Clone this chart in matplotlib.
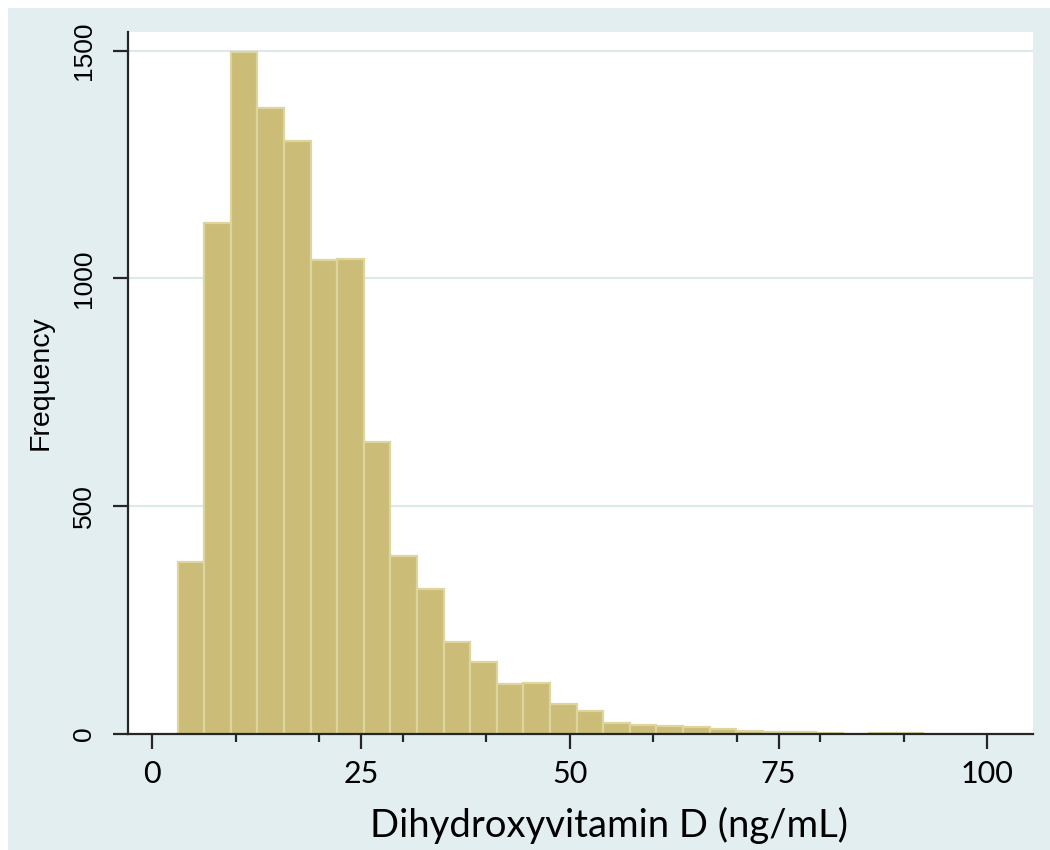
import matplotlib
matplotlib.use("Agg")
import matplotlib.pyplot as plt
from matplotlib.patches import Rectangle
from matplotlib.ticker import FixedLocator

# histogram data
bin_start = 3.03
bin_width = 3.186
counts = [376, 1122, 1497, 1373, 1302, 1040, 1043, 640, 389, 318,
          202, 157, 108, 112, 65, 50, 24, 18, 17, 14,
          10, 6, 4, 3, 1, 0, 1, 1]
x_major = [0, 25, 50, 75, 100]
x_minor = [10, 20, 30, 40, 60, 70, 80, 90]
y_ticks = [0, 500, 1000, 1500]

bg_blue = "#E2EEEF"
bar_fill = "#CBBD78"
bar_edge = "#DDD49E"
grid_col = "#DCE9EB"
axis_col = "#262626"

fig = plt.figure(figsize=(10.5, 8.5), dpi=100, facecolor="white")
# Stata-like graph region (light bluish background with thin white margin)
fig.patches.append(Rectangle((8 / 1050, 0), 1 - 8 / 1050, 1 - 8 / 850,
                             transform=fig.transFigure, facecolor=bg_blue,
                             edgecolor="none", zorder=-5))

ax = fig.add_axes([128 / 1050, 1 - 733.6 / 850, (1033 - 128) / 1050, (733.6 - 32) / 850])
ax.set_facecolor("white")

lefts = [bin_start + i * bin_width for i in range(len(counts))]
ax.bar(lefts, counts, width=bin_width, align="edge", color=bar_fill,
       edgecolor=bar_edge, linewidth=1.6, zorder=2)

ax.set_xlim(-2.91, 105.47)
ax.set_ylim(0, 1541)

# gridlines behind the bars
for y in y_ticks[1:]:
    ax.axhline(y, color=grid_col, linewidth=1.5, zorder=1)

for s in ["top", "right"]:
    ax.spines[s].set_visible(False)
for s in ["left", "bottom"]:
    ax.spines[s].set_color(axis_col)
    ax.spines[s].set_linewidth(1.6)
    ax.spines[s].set_zorder(3)

ax.set_xticks(x_major)
ax.xaxis.set_minor_locator(FixedLocator(x_minor))
ax.set_xticklabels([str(v) for v in x_major], fontsize=22, family="Lato")
ax.tick_params(axis="x", which="major", length=11, width=1.6, color=axis_col, pad=8)
ax.tick_params(axis="x", which="minor", length=6, width=1.6, color=axis_col)

ax.set_yticks(y_ticks)
ax.set_yticklabels([str(v) for v in y_ticks], fontsize=19, family="Liberation Sans",
                   rotation=90, va="center")
ax.tick_params(axis="y", length=11, width=1.6, color=axis_col, pad=12)

ax.set_xlabel("Dihydroxyvitamin D (ng/mL)", fontsize=27.5, family="Lato")
ax.xaxis.set_label_coords(0.531, -0.105)
ax.set_ylabel("Frequency", fontsize=20.5, family="Liberation Sans")
ax.yaxis.set_label_coords(-0.082, 0.5)

fig.savefig("out.png", dpi=100, facecolor=fig.get_facecolor())
